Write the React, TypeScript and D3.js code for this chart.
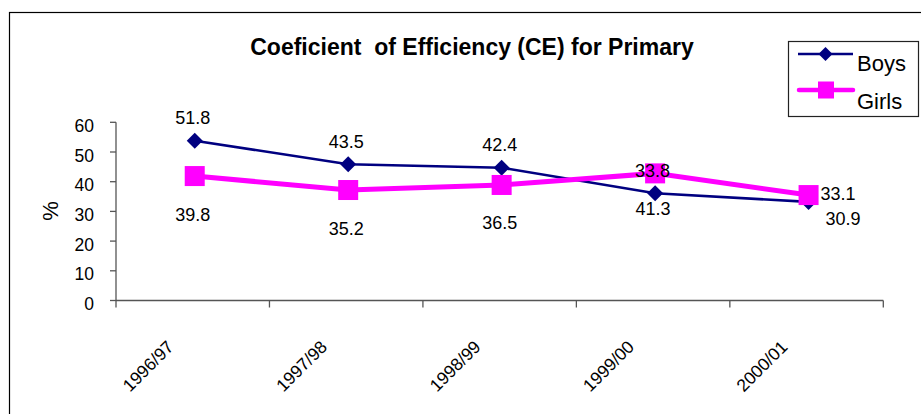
import React from "react";
import * as d3 from "d3";

const categories = ["1996/97", "1997/98", "1998/99", "1999/00", "2000/01"];
const boysValues = [53.8, 45.9, 44.7, 36.1, 33.2];
const girlsValues = [41.9, 37.2, 38.9, 42.8, 35.5];
const boysLabels = ["51.8", "43.5", "42.4", "41.3", "30.9"];
const girlsLabels = ["39.8", "35.2", "36.5", "33.8", "33.1"];
const boysLabelPos = ["above", "above", "above", "below", "belowRight"];
const girlsLabelPos = ["farBelow", "farBelow", "farBelow", "center", "right"];
const yTicks = [0, 10, 20, 30, 40, 50, 60];
const title = "Coeficient  of Efficiency (CE) for Primary";
const yTitle = "%";
const seriesNames = ["Boys", "Girls"];

const FONT = "'Liberation Sans', Arial, Helvetica, sans-serif";
const BOYS = "#000080";
const GIRLS = "#FF00FF";
const AXIS = "#555555";

const placement: Record<string, { dx: number; dy: number; anchor: string }> = {
  above: { dx: -2, dy: -16.5, anchor: "middle" },
  below: { dx: -2, dy: 22, anchor: "middle" },
  belowRight: { dx: 17, dy: 23, anchor: "start" },
  farBelow: { dx: -2, dy: 44.5, anchor: "middle" },
  center: { dx: -2.5, dy: 4, anchor: "middle" },
  right: { dx: 12, dy: 5, anchor: "start" },
};

export default function App() {
  const W = 921;
  const H = 414;
  const left = 116;
  const right = 883.3;
  const top = 122.3;
  const bottom = 300.5;

  const x = d3.scaleBand<string>().domain(categories).range([left, right]).padding(0);
  const y = d3.scaleLinear().domain([0, 60]).range([bottom, top]);
  const px = (c: string) => (x(c) as number) + x.bandwidth() / 2 + 2;

  const line = d3
    .line<number>()
    .x((_, i) => px(categories[i]))
    .y((d) => y(d));

  const tickXs = [...categories.map((c) => x(c) as number), right];

  const diamond = (cx: number, cy: number, r: number) =>
    `M${cx},${cy - r}L${cx + r},${cy}L${cx},${cy + r}L${cx - r},${cy}Z`;

  return (
    <div style={{ position: "absolute", left: 0, top: 0 }}>
      <svg width={W} height={H} style={{ display: "block", background: "#fff" }} fontFamily={FONT}>
        <rect x={0} y={0} width={W} height={H} fill="#fff" />
        <rect x={9.5} y={12.5} width={1000} height={500} fill="none" stroke="#000" strokeWidth={1.2} />

        <text x={472} y={55} textAnchor="middle" fontSize={23} fontWeight="bold" fill="#000" style={{ whiteSpace: "pre" }}>
          {title}
        </text>

        {/* Y axis */}
        <line x1={left} x2={left} y1={top} y2={bottom} stroke={AXIS} strokeWidth={1.3} />
        {yTicks.map((t) => (
          <g key={t}>
            <line x1={left - 6} x2={left} y1={y(t)} y2={y(t)} stroke={AXIS} strokeWidth={1.3} />
            <text x={94} y={y(t) + 9.5} textAnchor="end" fontSize={17.5} fill="#000">
              {t}
            </text>
          </g>
        ))}
        <text
          transform={`translate(58,211) rotate(-90)`}
          textAnchor="middle"
          fontSize={22}
          fill="#000"
        >
          {yTitle}
        </text>

        {/* X axis */}
        <line x1={left} x2={right} y1={bottom} y2={bottom} stroke={AXIS} strokeWidth={1.3} />
        {tickXs.map((tx, i) => (
          <line key={i} x1={tx} x2={tx} y1={bottom} y2={bottom + 7} stroke={AXIS} strokeWidth={1.3} />
        ))}
        {categories.map((c) => (
          <text
            key={c}
            transform={`translate(${(x(c) as number) + x.bandwidth() / 2 - 18},348) rotate(-45)`}
            textAnchor="end"
            fontSize={17.5}
            fill="#000"
          >
            {c}
          </text>
        ))}

        {/* Boys */}
        <path d={line(boysValues) || ""} fill="none" stroke={BOYS} strokeWidth={2.6} />
        {boysValues.map((v, i) => (
          <path key={i} d={diamond(px(categories[i]), y(v), 8)} fill={BOYS} />
        ))}

        {/* Girls */}
        <path d={line(girlsValues) || ""} fill="none" stroke={GIRLS} strokeWidth={5} />
        {girlsValues.map((v, i) => (
          <rect key={i} x={px(categories[i]) - 10} y={y(v) - 10} width={20} height={20} fill={GIRLS} />
        ))}

        {/* Data labels */}
        {boysValues.map((v, i) => {
          const p = placement[boysLabelPos[i]];
          return (
            <text
              key={"b" + i}
              x={px(categories[i]) + p.dx}
              y={y(v) + p.dy}
              textAnchor={p.anchor as any}
              fontSize={18}
              fill="#000"
            >
              {boysLabels[i]}
            </text>
          );
        })}
        {girlsValues.map((v, i) => {
          const p = placement[girlsLabelPos[i]];
          return (
            <text
              key={"g" + i}
              x={px(categories[i]) + p.dx}
              y={y(v) + p.dy}
              textAnchor={p.anchor as any}
              fontSize={18}
              fill="#000"
            >
              {girlsLabels[i]}
            </text>
          );
        })}

        {/* Legend */}
        <rect x={788.5} y={41.5} width={130} height={75} fill="#fff" stroke="#222" strokeWidth={1.2} />
        <line x1={798} x2={853} y1={54} y2={54} stroke={BOYS} strokeWidth={2.6} />
        <path d={diamond(825.5, 54, 7)} fill={BOYS} />
        <text x={857} y={71} fontSize={22} fill="#000">
          {seriesNames[0]}
        </text>
        <line x1={799} x2={853} y1={90} y2={90} stroke={GIRLS} strokeWidth={4.5} strokeLinecap="round" />
        <rect x={818} y={81.5} width={16} height={17} fill={GIRLS} />
        <text x={857} y={109} fontSize={22} fill="#000">
          {seriesNames[1]}
        </text>
      </svg>
    </div>
  );
}
